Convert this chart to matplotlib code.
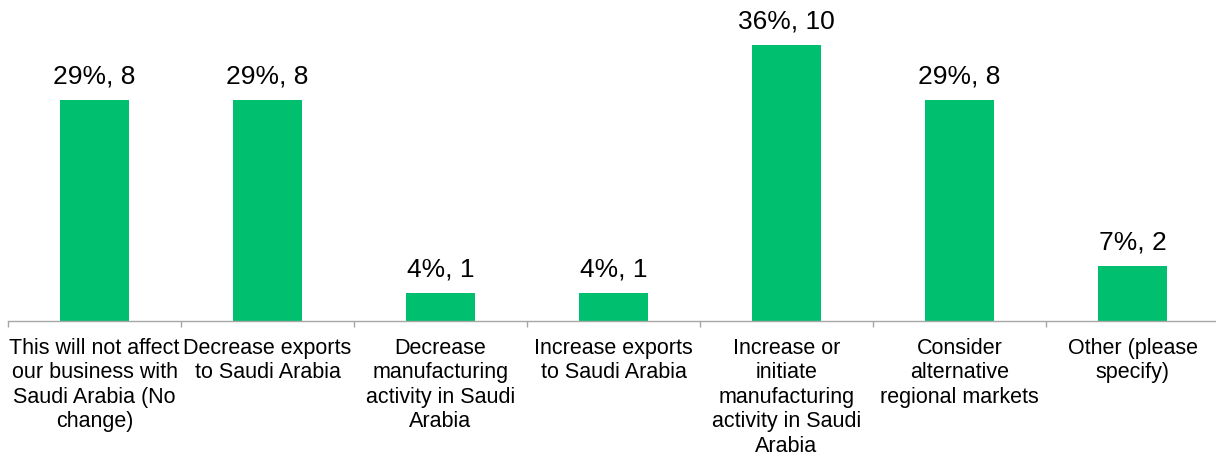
import matplotlib
matplotlib.use('Agg')
import matplotlib.pyplot as plt

plt.rcParams['font.family'] = ['Liberation Sans', 'DejaVu Sans']

categories = ['This will not affect\nour business with\nSaudi Arabia (No\nchange)',
              'Decrease exports\nto Saudi Arabia',
              'Decrease\nmanufacturing\nactivity in Saudi\nArabia',
              'Increase exports\nto Saudi Arabia',
              'Increase or\ninitiate\nmanufacturing\nactivity in Saudi\nArabia',
              'Consider\nalternative\nregional markets',
              'Other (please\nspecify)']
counts = [8, 8, 1, 1, 10, 8, 2]
percents = [29, 29, 4, 4, 36, 29, 7]

green = '#00BF6F'
grey = '#A6A6A6'

fig = plt.figure(figsize=(12.16, 4.57), dpi=100)
ax = fig.add_axes([8/1216, 136/457, 1211/1216, 321/457])

x = list(range(len(categories)))
bars = ax.bar(x, counts, width=0.4, color=green, zorder=2)

for xi, c, p in zip(x, counts, percents):
    ax.annotate('%d%%, %d' % (p, c), (xi, c), xytext=(0, 12), textcoords='offset points',
                ha='center', va='baseline', fontsize=19)

ax.set_xlim(-0.5, len(categories) - 0.5)
ax.set_ylim(0, 11.63)
ax.set_xticks(x)
ax.set_xticklabels(categories, fontsize=15.5, linespacing=1.22)
ax.set_xticks([i - 0.5 for i in range(len(categories) + 1)], minor=True)
ax.tick_params(axis='x', which='major', length=0, pad=12)
ax.tick_params(axis='x', which='minor', length=4, color=grey, width=1)
ax.set_yticks([])
for s in ['top', 'right', 'left']:
    ax.spines[s].set_visible(False)
ax.spines['bottom'].set_color(grey)
ax.spines['bottom'].set_linewidth(1)

fig.savefig('out.png', dpi=100)
